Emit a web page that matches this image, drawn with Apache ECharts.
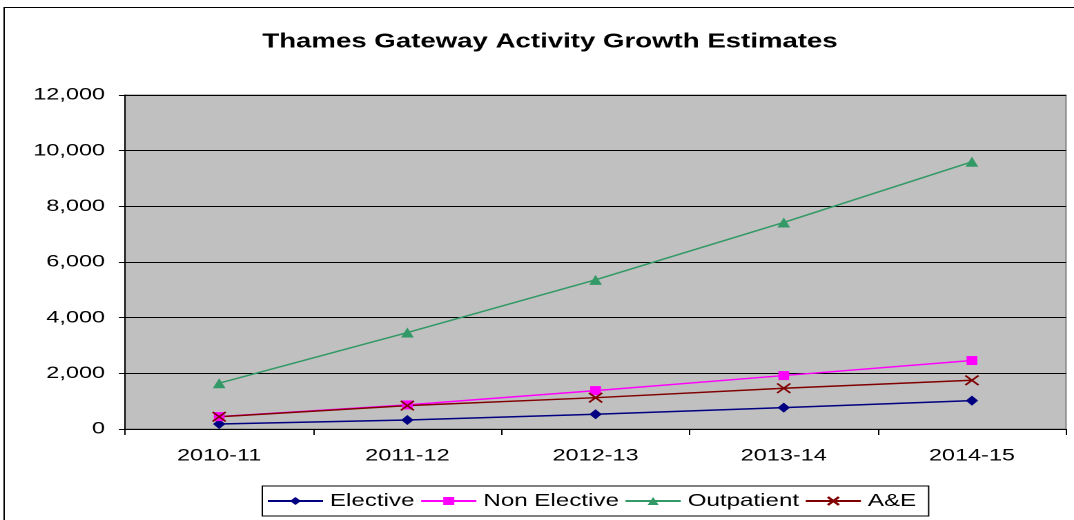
<!DOCTYPE html>
<html>
<head>
<meta charset="utf-8">
<script src="https://cdn.jsdelivr.net/npm/echarts@6/dist/echarts.min.js"></script>
<style>
  html, body { margin: 0; padding: 0; background: #ffffff; overflow: hidden; }
  #wrap { width: 1074px; height: 520px; overflow: hidden; }
  /* The chart is laid out narrower and widened horizontally, giving the broad Excel-style lettering */
  #chart { width: 778px; height: 520px; transform: scaleX(1.3805); transform-origin: 0 0; }
</style>
</head>
<body>
<div id="wrap"><div id="chart"></div></div>
<script>
// Financial years on the category axis
const years = ['2010-11', '2011-12', '2012-13', '2013-14', '2014-15'];

// Activity growth estimates per service line
const elective = [180, 325, 530, 770, 1020];
const nonElective = [445, 865, 1380, 1920, 2460];
const outpatient = [1645, 3465, 5360, 7420, 9600];
const aAndE = [440, 840, 1125, 1465, 1750];

// Value axis ticks
const yTicks = [0, 2000, 4000, 6000, 8000, 10000, 12000];

const fontFamily = '"Liberation Sans", Arial, sans-serif';

const chart = echarts.init(document.getElementById('chart'), null, {
  renderer: 'canvas', devicePixelRatio: 2, width: 778, height: 520
});

function lineSeries(name, data, color, symbol, size, borderWidth) {
  return {
    name: name,
    type: 'line',
    data: data,
    symbol: symbol,
    symbolSize: size,
    showSymbol: true,
    lineStyle: { color: color, width: 1.5 },
    itemStyle: { color: color, borderColor: color, borderWidth: borderWidth },
    emphasis: { disabled: true },
    animation: false,
    z: 3
  };
}

// Cross marker drawn as a stroked path
const crossPath = 'path://M0,0 L10,10 M10,0 L0,10';

const option = {
  backgroundColor: '#ffffff',
  animation: false,
  title: {
    text: 'Thames Gateway Activity Growth Estimates',
    left: 185,
    top: 27,
    textStyle: { fontFamily: fontFamily, fontSize: 20, fontWeight: 'bold', color: '#000000' }
  },
  graphic: [
    {
      type: 'rect',
      shape: { x: 3, y: 7.5, width: 800, height: 530 },
      style: { fill: 'none', stroke: '#000000', lineWidth: 1 },
      silent: true,
      z: -1
    }
  ],
  grid: {
    left: 90.6, top: 95, width: 681.6, height: 334,
    show: true,
    backgroundColor: '#c0c0c0',
    borderColor: '#808080',
    borderWidth: 1,
    containLabel: false
  },
  legend: {
    top: 486,
    left: 190,
    itemGap: 3.8,
    itemWidth: 40,
    itemHeight: 10,
    padding: [6, 9, 6, 3],
    borderColor: '#000000',
    borderWidth: 1,
    backgroundColor: '#ffffff',
    textStyle: { fontFamily: fontFamily, fontSize: 17.5, color: '#000000' },
    data: ['Elective', 'Non Elective', 'Outpatient', 'A&E']
  },
  xAxis: {
    type: 'category',
    data: years,
    boundaryGap: true,
    axisLine: { show: true, lineStyle: { color: '#000000', width: 1 } },
    axisTick: { show: true, inside: false, length: 6, alignWithLabel: false, lineStyle: { color: '#000000' } },
    axisLabel: { fontFamily: fontFamily, fontSize: 17, color: '#000000', margin: 18.5 },
    splitLine: { show: false }
  },
  yAxis: {
    type: 'value',
    min: 0,
    max: 12000,
    interval: 2000,
    axisLine: { show: true, lineStyle: { color: '#000000', width: 1 } },
    axisTick: { show: true, inside: false, length: 4.5, lineStyle: { color: '#000000' } },
    axisLabel: {
      fontFamily: fontFamily, fontSize: 17, color: '#000000', margin: 14.5,
      formatter: function (v) { return yTicks.indexOf(v) >= 0 ? v.toLocaleString('en-US') : ''; }
    },
    splitLine: { show: true, lineStyle: { color: '#000000', width: 1 } }
  },
  series: [
    lineSeries('Elective', elective, '#000080', 'diamond', [9, 10], 0),
    lineSeries('Non Elective', nonElective, '#ff00ff', 'rect', [7.8, 9], 0),
    lineSeries('Outpatient', outpatient, '#339966', 'triangle', [9.2, 10], 0),
    lineSeries('A&E', aAndE, '#800000', crossPath, [9.5, 9.5], 1.5)
  ]
};

chart.setOption(option);
</script>
</body>
</html>
